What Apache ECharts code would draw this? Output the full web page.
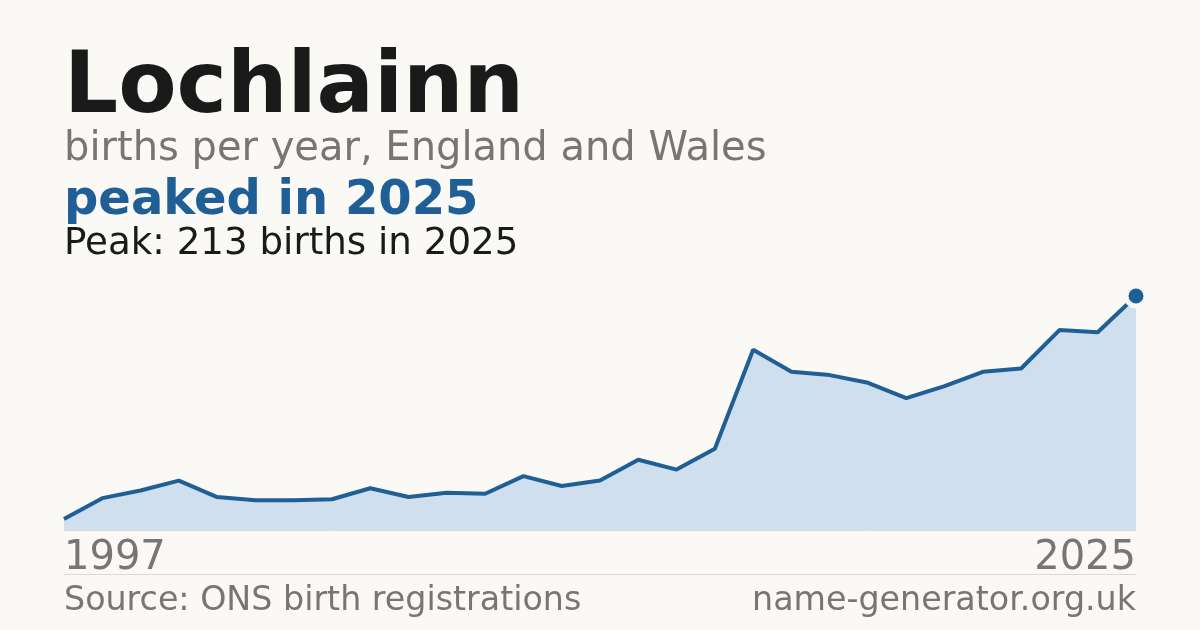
<!DOCTYPE html>
<html>
<head>
<meta charset="utf-8">
<script src="https://cdn.jsdelivr.net/npm/echarts@6/dist/echarts.min.js"></script>
<style>
html,body{margin:0;padding:0;background:#faf9f5;}
#chart{width:1200px;height:630px;}
</style>
</head>
<body>
<div id="chart"></div>
<script>
var years = ['1997','1998','1999','2000','2001','2002','2003','2004','2005','2006','2007','2008','2009','2010','2011','2012','2013','2014','2015','2016','2017','2018','2019','2020','2021','2022','2023','2024','2025'];
var births = [10,29,36,45,30,27,27,28,38,30,34,33,49,40,45,64,55,74,164,144,141,134,120,131,144,147,182,180,213];
var peakYear = '2025';
var peakValue = 213;

var FONT = '"DejaVu Sans", sans-serif';
var BLUE = '#1f5f96';
var GREY = '#7a7570';

var chart = echarts.init(document.getElementById('chart'), null, {renderer:'canvas'});
var last = years.length - 1;
chart.setOption({
  backgroundColor: '#faf9f5',
  animation: false,
  grid: {left: 64, right: 64, top: 296, bottom: 100},
  xAxis: {
    type: 'category',
    data: years,
    boundaryGap: false,
    axisLine: {show: true, lineStyle: {color: '#dcdad5', width: 1}},
    axisTick: {show: false},
    splitLine: {show: false},
    axisLabel: {
      interval: function (i) { return i === 0 || i === last; },
      showMinLabel: true, showMaxLabel: true,
      alignMinLabel: 'left', alignMaxLabel: 'right',
      color: GREY, fontFamily: FONT, fontSize: 40, margin: 9
    }
  },
  yAxis: {
    type: 'value', min: 0, max: peakValue,
    show: false, splitLine: {show: false}
  },
  graphic: [
    {type:'text', left: 64, top: 47, style:{text:'Lochlainn', font:'bold 85px ' + FONT, fill:'#1a1a1a'}},
    {type:'text', left: 64, top: 130, style:{text:'births per year, England and Wales', font:'40px ' + FONT, fill:GREY}},
    {type:'text', left: 64, top: 178, style:{text:'peaked in ' + peakYear, font:'bold 48px ' + FONT, fill:BLUE}},
    {type:'text', left: 64, top: 226, style:{text:'Peak: ' + peakValue + ' births in ' + peakYear, font:'37.2px ' + FONT, fill:'#1a1a1a'}},
    {type:'line', shape:{x1:64, y1:574.5, x2:1136, y2:574.5}, style:{stroke:'#dcdad5', lineWidth:1}},
    {type:'text', left: 64, top: 585, style:{text:'Source: ONS birth registrations', font:'33.3px ' + FONT, fill:GREY}},
    {type:'text', right: 64, top: 585, style:{text:'name-generator.org.uk', font:'33.3px ' + FONT, fill:GREY}}
  ],
  series: [{
    type: 'line',
    data: births,
    showSymbol: false,
    lineStyle: {color: BLUE, width: 4},
    areaStyle: {color: '#d0dfee', opacity: 1},
    markPoint: {
      symbol: 'circle', symbolSize: 20,
      itemStyle: {color: BLUE, borderColor: '#faf9f5', borderWidth: 5},
      label: {show: false},
      data: [{coord: [peakYear, peakValue]}]
    }
  }]
});
</script>
</body>
</html>
